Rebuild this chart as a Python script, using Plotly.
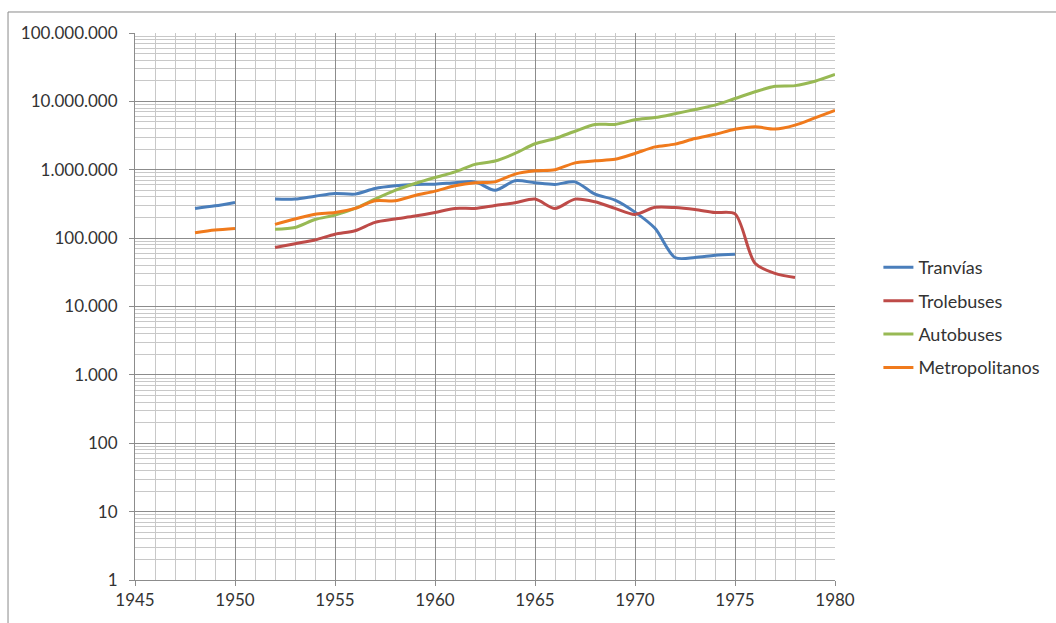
import plotly.graph_objects as go

# Annual ridership by mode of urban transport, 1948-1980 (log scale)
years = list(range(1948, 1981))

tranvias = [272000, 297000, 333000, None, 372000, 372000, 411000, 450000, 440000, 532000,
            582000, 610000, 616000, 645000, 665000, 500000, 690000, 645000, 610000, 665000,
            440000, 360000, 240000, 139000, 52000, 52000, 56000, 58000, None, None,
            None, None, None]

trolebuses = [None, None, None, None, 73000, 83000, 94000, 114000, 128000, 170000,
              190000, 210000, 237000, 272000, 272000, 300000, 328000, 372000, 272000, 372000,
              340000, 272000, 222000, 282000, 280000, 262000, 237000, 226000, 43000, 30500,
              26600, None, None]

autobuses = [None, None, None, None, 135000, 143000, 187000, 217000, 272000, 372000,
             500000, 630000, 771000, 930000, 1200000, 1340000, 1730000, 2400000, 2860000, 3660000,
             4600000, 4600000, 5400000, 5800000, 6600000, 7600000, 8800000, 11000000, 13800000, 16600000,
             17000000, 19700000, 24700000]

metropolitanos = [120000, 131000, 138000, None, 159000, 190000, 224000, 237000, 272000, 351000,
                  351000, 420000, 487000, 582000, 645000, 665000, 863000, 965000, 1000000, 1260000,
                  1350000, 1420000, 1730000, 2160000, 2370000, 2860000, 3300000, 3900000, 4240000, 3930000,
                  4500000, 5750000, 7400000]

series = [
    ("Tranvías", tranvias, "#4A7EBB"),
    ("Trolebuses", trolebuses, "#BE4B48"),
    ("Autobuses", autobuses, "#98B954"),
    ("Metropolitanos", metropolitanos, "#F07A1C"),
]

y_tickvals = [10 ** k for k in range(0, 9)]
y_minor = [m * 10 ** k for k in range(0, 8) for m in range(2, 10)]

fig = go.Figure()
for name, vals, color in series:
    fig.add_trace(go.Scatter(
        x=years, y=vals, name=name, mode="lines",
        line=dict(color=color, width=3, shape="spline", smoothing=0.8),
        connectgaps=False, legendgroup=name,
    ))

fig.update_layout(
    width=1056, height=623,
    margin=dict(l=135, r=221, t=33, b=43, autoexpand=False),
    paper_bgcolor="white", plot_bgcolor="white",
    separators=",.",
    font=dict(family="Lato, 'Open Sans', sans-serif", size=17, color="#333333"),
    showlegend=True,
    legend=dict(x=1.062, xanchor="left", y=0.605, yanchor="top",
                font=dict(size=18, color="#333333"), tracegroupgap=7,
                bgcolor="rgba(0,0,0,0)"),
    shapes=[dict(type="rect", xref="paper", yref="paper",
                 x0=-0.1814, x1=1.33, y0=-0.1, y1=1.0384,
                 line=dict(color="#8a8a8a", width=1), layer="below")],
)

fig.update_xaxes(
    range=[1945, 1980], tick0=1945, dtick=5,
    showgrid=True, gridcolor="#8c8c8c", gridwidth=1,
    showline=True, linecolor="#8c8c8c", linewidth=1,
    ticks="outside", ticklen=5, tickcolor="#8c8c8c",
    minor=dict(dtick=1, tick0=1945, showgrid=True, gridcolor="#c8c8c8", gridwidth=1),
    zeroline=False, fixedrange=True,
)

fig.update_yaxes(
    type="log", range=[0, 8],
    tickmode="array", tickvals=y_tickvals, tickformat=",.0f",
    showgrid=True, gridcolor="#8c8c8c", gridwidth=1,
    showline=True, linecolor="#8c8c8c", linewidth=1,
    ticks="outside", ticklen=5, tickcolor="#8c8c8c",
    ticklabelstandoff=8,
    minor=dict(tickmode="array", tickvals=y_minor, showgrid=True,
               gridcolor="#c8c8c8", gridwidth=1),
    zeroline=False, fixedrange=True,
)

fig.write_html("out.html")
